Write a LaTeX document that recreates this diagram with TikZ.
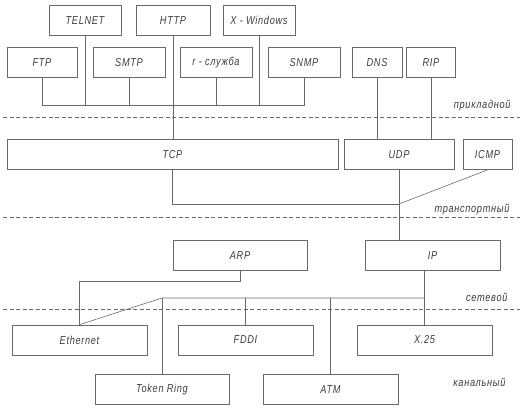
\documentclass[tikz,border=0pt]{standalone}
\usepackage{fontspec}
\usepackage{tikz}
\usetikzlibrary{calc}
\newfontfamily\chertezh[LetterSpace=6,FakeStretch=0.8]{Liberation Sans}
\definecolor{linia}{RGB}{105,105,105}
\definecolor{tekst}{RGB}{60,60,60}

\begin{document}
\begin{tikzpicture}[x=1pt,y=-1pt,
    proto/.style={draw=linia,line width=0.7pt,minimum height=30pt,inner sep=0pt,
      font=\chertezh\itshape\fontsize{11.5}{13}\selectfont,text=tekst},
    sloy/.style={anchor=east,font=\chertezh\itshape\fontsize{11.5}{13}\selectfont,text=tekst},
    svyaz/.style={draw=linia,line width=0.6pt},
    razdel/.style={draw=linia,line width=0.6pt,dash pattern=on 4pt off 2.5pt}]
        \useasboundingbox (0,0) rectangle (523,409);
        % prikladnoj uroven
        \node[proto,minimum width=72pt] (telnet) at (85,20.5) {TELNET};
        \node[proto,minimum width=74pt] (http) at (173,20.5) {HTTP};
        \node[proto,minimum width=72pt] (xwin) at (259,20.5) {X - Windows};
        \node[proto,minimum width=70pt] (ftp) at (42,62.5) {FTP};
        \node[proto,minimum width=72pt] (smtp) at (129,62.5) {SMTP};
        \node[proto,minimum width=72pt] (rserv) at (216,62.5) {r - служба};
        \node[proto,minimum width=72pt] (snmp) at (304,62.5) {SNMP};
        \node[proto,minimum width=50pt] (dns) at (377,62.5) {DNS};
        \node[proto,minimum width=49pt] (rip) at (431,62.5) {RIP};
        % transportnyj uroven
        \node[proto,minimum width=331pt] (tcp) at (172.5,154.5) {TCP};
        \node[proto,minimum width=110pt] (udp) at (399,154.5) {UDP};
        \node[proto,minimum width=49pt] (icmp) at (487.5,154.5) {ICMP};
        % setevoj uroven
        \node[proto,minimum width=134pt] (arp) at (240,255.5) {ARP};
        \node[proto,minimum width=135pt] (ip) at (432.5,255.5) {IP};
        % kanalnyj uroven
        \node[proto,minimum width=135pt] (eth) at (79.5,340) {Ethernet};
        \node[proto,minimum width=135pt] (fddi) at (245.5,340) {FDDI};
        \node[proto,minimum width=135pt] (x25) at (424.5,340) {X.25};
        \node[proto,minimum width=134pt] (token) at (162,389.5) {Token Ring};
        \node[proto,minimum width=135pt] (atm) at (330.5,389.5) {ATM};
        % urovni
        \node[sloy] (lprikl) at (514,105) {прикладной};
        \node[sloy] (ltrans) at (513,209) {транспортный};
        \node[sloy] (lset) at (511,297) {сетевой};
        \node[sloy] (lkanal) at (509,382) {канальный};
        \draw[razdel] (3,117) -- (520,117);
        \draw[razdel] (3,217) -- (520,217);
        \draw[razdel] (3,309) -- (520,309);
        % svyazi
        \coordinate (pbus) at (0,105);
        \coordinate (tj) at (399,204);
        \coordinate (nbus) at (0,298);
        \draw[svyaz] (ftp.south) -- (ftp.south |- pbus) -- (snmp.south |- pbus) -- (snmp.south);
        \draw[svyaz] (smtp.south) -- (smtp.south |- pbus);
        \draw[svyaz] (rserv.south) -- (rserv.south |- pbus);
        \draw[svyaz] (telnet.south) -- (telnet.south |- pbus);
        \draw[svyaz] (xwin.south) -- (xwin.south |- pbus);
        \draw[svyaz] (http.south) -- (http.south |- tcp.north);
        \draw[svyaz] (dns.south) -- (dns.south |- udp.north);
        \draw[svyaz] (rip.south) -- (rip.south |- udp.north);
        \draw[svyaz] (tcp.south) |- (tj);
        \draw[svyaz] (icmp.south) -- (tj);
        \draw[svyaz] (udp.south) -- (udp.south |- ip.north);
        \draw[svyaz] (arp.south) -- ++(0,10) -| (eth.north);
        \draw[svyaz] (x25.north) -- (x25.north |- ip.south);
        \draw[svyaz] (eth.north) -- (token.north |- nbus) -- (x25.north |- nbus);
        \draw[svyaz] (token.north |- nbus) -- (token.north);
        \draw[svyaz] (fddi.north |- nbus) -- (fddi.north);
        \draw[svyaz] (atm.north |- nbus) -- (atm.north);
\end{tikzpicture}
\end{document}
